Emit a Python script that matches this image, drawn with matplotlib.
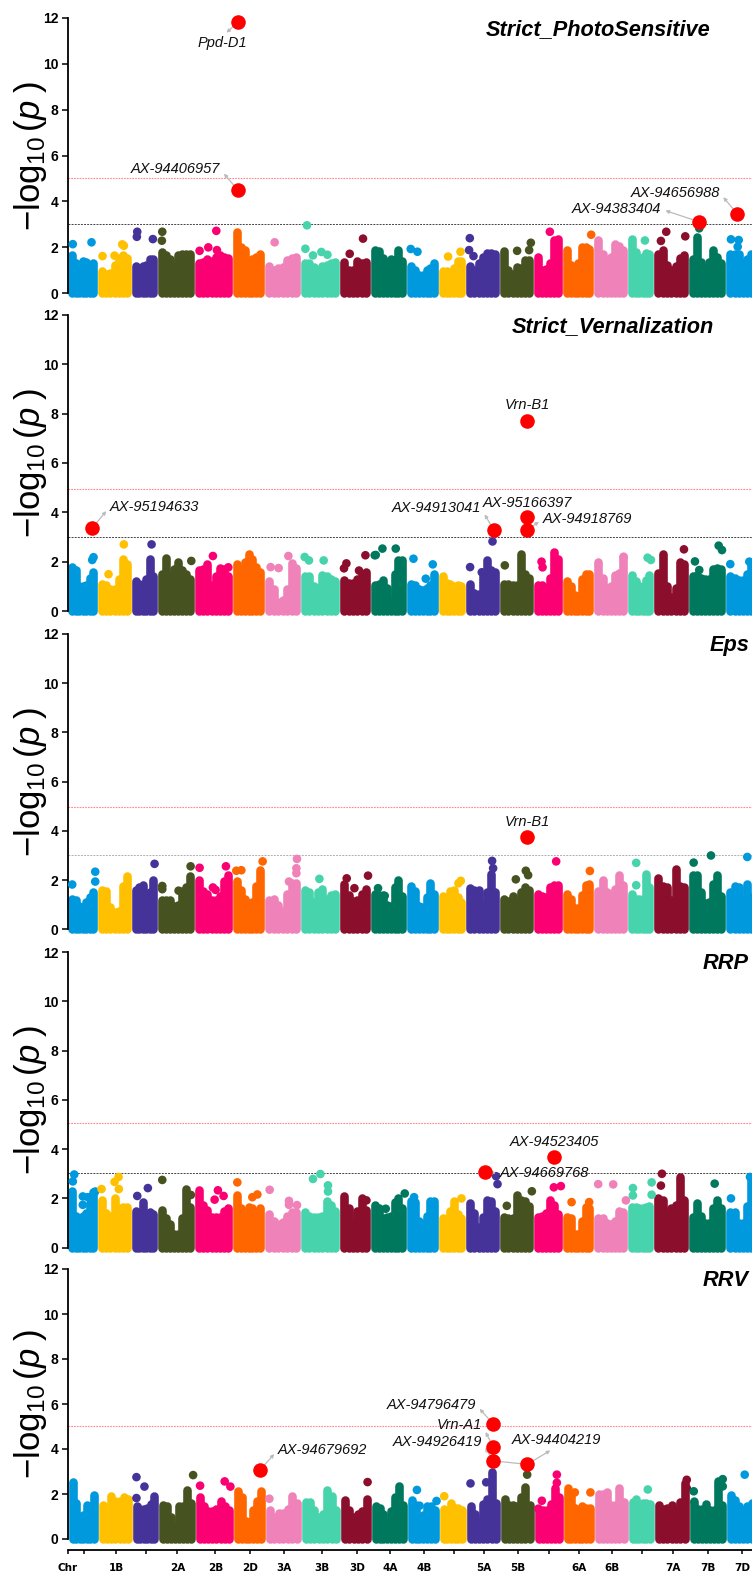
import numpy as np
import matplotlib
matplotlib.use("Agg")
import matplotlib.pyplot as plt

plt.rcParams['font.family'] = ['Liberation Sans', 'DejaVu Sans']
plt.rcParams['mathtext.fontset'] = 'custom'
plt.rcParams['mathtext.rm'] = 'Liberation Sans'
plt.rcParams['mathtext.it'] = 'Liberation Sans:italic'

# chromosome lengths, in 20 Mb bins
chr_size = [30, 34, 26, 37, 38, 32, 36, 39, 31, 36, 32, 27, 34, 34, 29, 31, 34, 26, 35, 37, 30]
chr_colors = ['#0099DD', '#FFC000', '#46339A', '#475221', '#FA0072', '#FF6600', '#EE82B9',
              '#47D3AC', '#8B0E2D', '#00785D'] * 2 + ['#0099DD']

tick_pos = [-1, 16, 48, 78, 109, 147, 182, 216, 254, 289, 322, 356, 386, 416, 450, 481, 511, 544, 574, 605, 640, 674]
tick_labels = ['Chr', '', '1B', '', '2A', '2B', '2D', '3A', '3B', '3D', '4A', '4B', '', '5A', '5B', '', '6A', '6B', '', '7A', '7B', '7D']

# top of the dense cloud along each chromosome, then the loose points above it
photo_heights = [
    [1.65, 1.3, 1.0, 1.4, 1.35, 1.25, 1.3], [0.95, 0.85, 0.9, 1.25, 1.55, 1.65, 1.55], [1.2, 1.05, 1.2, 1.25, 1.5, 1.5],
    [1.8, 1.65, 1.5, 1.2, 1.65, 1.7, 1.7, 1.7], [1.3, 1.35, 1.5, 1.4, 1.6, 1.65, 1.6, 1.55], [2.65, 2.0, 1.9, 1.2, 1.5, 1.6, 1.7],
    [1.2, 1.0, 1.1, 1.15, 1.45, 1.55, 1.6], [1.3, 1.3, 1.15, 1.0, 1.2, 1.25, 1.3, 1.35], [1.35, 1.0, 1.0, 1.4, 1.3, 1.35],
    [1.9, 1.85, 1.55, 1.35, 1.5, 1.45, 1.9, 1.4], [1.2, 1.0, 0.8, 0.8, 1.0, 1.1, 1.3], [0.95, 0.95, 0.8, 1.1, 1.4, 1.4],
    [1.2, 1.0, 1.3, 1.6, 1.75, 1.75, 1.7], [1.85, 1.0, 0.85, 1.15, 1.1, 1.45, 1.45], [1.6, 1.0, 1.05, 1.3, 2.3, 2.35],
    [1.9, 1.25, 1.15, 1.3, 2.0, 2.0, 1.95], [2.3, 1.7, 1.45, 1.6, 2.15, 2.05, 1.9], [2.35, 1.8, 1.55, 1.6, 1.75, 1.7],
    [1.7, 1.9, 1.25, 1.0, 1.2, 1.55, 1.65], [1.5, 2.45, 1.35, 1.1, 1.35, 1.9, 1.6, 1.3], [1.7, 1.7, 1.7, 1.3, 1.5, 1.7],
]
photo_out_x = [5.3, 24, 35, 47, 54.7, 56.3, 69.7, 69.3, 85.3, 94.7, 94.3, 132, 140.7, 149.3, 148.7, 207, 237.7, 245.3,
               253.7, 259.7, 239.3, 282, 295.3, 343, 349.7, 380.3, 392.7, 402, 401.3, 405.7, 449.3, 463, 461.3, 482,
               523.3, 577, 598.3, 593, 617.3, 631.3, 663, 670.7, 669.7]
photo_out_y = [2.14, 2.22, 1.62, 1.64, 2.13, 2.07, 2.68, 2.46, 2.36, 2.68, 2.29, 1.85, 2.0, 1.88, 2.72, 2.22, 1.94, 1.65,
               1.8, 1.68, 2.96, 1.72, 2.38, 1.93, 1.81, 1.6, 1.81, 2.4, 1.88, 1.62, 1.85, 2.2, 1.88, 2.68,
               2.55, 2.3, 2.68, 2.28, 2.48, 2.83, 2.35, 2.32, 2.03]
photo_hit_x = [170.3, 170.3, 630.7, 669.3]
photo_hit_y = [11.8, 4.49, 3.12, 3.45]
photo_names = ['Ppd-D1', 'AX-94406957', 'AX-94383404', 'AX-94656988']
photo_name_x = [154.7, 108, 548.7, 607]
photo_name_y = [10.88, 5.4, 3.66, 4.38]

vern_heights = [
    [1.8, 1.65, 1.0, 1.0, 1.05, 1.35, 1.6], [1.1, 1.05, 0.9, 0.9, 1.3, 2.1, 1.9], [1.2, 1.1, 1.1, 1.3, 2.1, 1.4],
    [1.5, 2.15, 1.4, 1.7, 2.0, 1.65, 1.5, 1.3], [1.65, 1.7, 1.9, 1.05, 1.4, 1.75, 1.7, 1.4], [1.9, 1.7, 2.0, 2.3, 2.1, 1.8, 1.6],
    [1.2, 0.9, 0.35, 0.45, 0.9, 1.95, 1.75], [1.4, 1.4, 1.0, 0.95, 1.45, 1.4, 1.3, 1.2], [1.25, 1.15, 1.15, 1.3, 1.5, 1.6],
    [1.05, 1.1, 1.25, 0.95, 0.4, 1.5, 2.05, 2.05], [1.1, 1.05, 0.9, 0.85, 0.95, 1.05, 1.5], [1.4, 1.15, 1.1, 1.0, 1.05, 1.0],
    [1.1, 0.75, 0.7, 1.4, 2.05, 1.65, 1.6], [1.1, 1.1, 1.05, 1.05, 2.3, 1.5, 1.35], [1.05, 1.05, 0.95, 1.35, 2.4, 2.1],
    [1.2, 1.0, 0.65, 0.55, 1.3, 1.5, 1.5], [2.0, 1.35, 0.95, 1.0, 1.45, 1.55, 2.2], [1.45, 1.2, 1.0, 1.0, 1.25, 1.45],
    [1.55, 2.3, 1.0, 0.55, 0.95, 2.0, 1.9], [1.4, 1.45, 1.35, 1.3, 1.3, 1.7, 1.75, 1.7], [1.4, 1.35, 1.25, 1.25, 1.5, 2.0],
]
vern_out_x = [26, 24.7, 41, 56.3, 84, 123.7, 145.3, 160.7, 203, 211, 220.7, 237, 241.3, 256, 278.7, 276.3, 291.3, 297.7,
              307, 314.7, 328, 308, 345.7, 358, 365, 402.3, 414, 424.7, 437, 473.7, 474.7, 555.7, 579.7, 583, 616,
              627, 650.7, 654, 631.3, 662.3, 681.3]
vern_out_y = [2.18, 2.07, 1.49, 2.7, 2.7, 2.03, 2.23, 1.77, 1.78, 1.74, 2.23, 2.19, 2.05, 2.05, 1.93, 1.73, 1.64, 2.26,
              2.26, 2.53, 2.53, 2.27, 2.12, 1.31, 1.89, 1.78, 1.57, 2.82, 1.85, 2.0, 1.77, 2.2, 2.16, 2.07, 2.5,
              2.01, 2.65, 2.47, 1.66, 1.9, 2.0]
vern_hit_x = [24.7, 425.7, 459, 459, 459]
vern_hit_y = [3.36, 3.3, 3.8, 3.28, 7.72]
vern_names = ['AX-95194633', 'AX-94913041', 'AX-95166397', 'AX-94918769', 'Vrn-B1']
vern_name_x = [87, 368.7, 459.7, 519.7, 459.6]
vern_name_y = [4.23, 4.16, 4.39, 3.73, 8.35]

eps_heights = [
    [1.25, 1.2, 0.95, 0.9, 1.1, 1.3, 1.5], [1.6, 1.55, 0.9, 0.7, 0.75, 1.75, 2.15], [1.6, 1.7, 1.8, 1.3, 1.5, 2.0],
    [1.2, 1.2, 1.2, 0.95, 1.0, 1.55, 1.7, 2.15], [2.0, 1.55, 1.45, 1.2, 1.2, 1.35, 1.95, 2.2], [1.95, 1.6, 1.25, 1.05, 1.1, 1.75, 2.4],
    [1.2, 1.25, 1.0, 0.75, 1.45, 1.9, 1.9], [1.6, 1.5, 1.1, 1.5, 1.65, 1.25, 1.4, 1.45], [1.85, 1.4, 1.15, 1.2, 1.45, 1.65],
    [1.45, 1.4, 1.4, 1.0, 0.95, 1.7, 2.0, 1.35], [1.75, 1.55, 0.95, 0.9, 1.3, 1.9, 1.45], [1.35, 1.0, 1.55, 1.6, 1.3, 1.1],
    [1.67, 1.6, 1.6, 1.0, 1.5, 2.25, 1.5], [1.25, 1.15, 1.35, 1.1, 1.5, 1.7, 1.6], [1.45, 1.35, 1.3, 1.7, 1.8, 1.8],
    [1.45, 1.25, 0.85, 0.85, 1.4, 1.8, 1.85], [1.55, 2.0, 1.5, 1.45, 1.65, 2.2, 1.8], [1.45, 1.25, 1.25, 1.25, 2.25, 1.7],
    [2.1, 1.75, 1.7, 1.2, 2.45, 1.75, 1.7], [2.2, 2.2, 1.5, 1.05, 1.1, 1.85, 2.2, 1.35], [1.5, 1.75, 1.7, 1.25, 1.85, 1.3],
]
eps_out_x = [4.7, 27.7, 27.7, 87, 94.7, 94.7, 123, 111, 132, 145.3, 148, 158.3, 168.7, 173.7, 195, 221.3, 229.3, 228.7,
             228.7, 251.7, 279, 286.7, 300.3, 310.3, 317, 393, 390.7, 424.3, 425.3, 448, 458, 460.3, 488.3, 522,
             568.3, 568.3, 625.7, 643, 679.3]
eps_out_y = [1.82, 2.34, 1.94, 2.66, 1.76, 1.63, 2.56, 1.57, 2.5, 1.7, 1.6, 2.56, 2.38, 2.4, 2.76, 1.94, 2.86, 2.48,
             2.28, 2.05, 2.07, 1.67, 2.18, 1.67, 1.36, 1.97, 1.87, 2.78, 2.48, 2.03, 2.38, 2.2, 2.76, 2.37,
             2.7, 1.79, 2.71, 3.0, 2.94]
eps_hit_x = [459]
eps_hit_y = [3.75]
eps_names = ['Vrn-B1']
eps_name_x = [459.7]
eps_name_y = [4.35]

rrp_heights = [
    [2.3, 1.3, 1.2, 1.3, 1.4, 1.8, 2.25], [1.95, 1.4, 1.3, 2.0, 1.6, 1.65, 1.65], [1.5, 1.4, 1.85, 1.25, 1.45, 1.35],
    [1.55, 1.2, 0.95, 0.55, 0.55, 1.2, 2.4, 1.65], [2.35, 1.75, 1.55, 1.25, 1.25, 1.25, 1.5, 1.6], [2.15, 1.6, 1.15, 1.65, 1.6, 1.45, 1.6],
    [1.35, 1.1, 0.95, 1.05, 1.3, 1.45, 1.45], [1.45, 1.3, 1.25, 1.25, 1.3, 1.9, 1.75, 1.5], [2.1, 1.6, 1.0, 1.5, 2.0, 1.55],
    [1.75, 1.6, 1.2, 1.25, 1.3, 1.85, 2.0, 1.6], [1.9, 1.85, 1.1, 0.95, 1.3, 1.9, 1.9], [1.2, 1.2, 1.5, 1.9, 1.35, 1.2],
    [1.8, 1.4, 0.85, 1.25, 1.95, 1.9, 1.5], [1.25, 1.2, 1.2, 2.15, 1.95, 1.9, 1.7], [1.25, 1.3, 1.4, 1.95, 1.75, 1.35],
    [1.25, 1.2, 0.55, 0.55, 1.1, 1.65, 1.6], [1.2, 1.2, 1.0, 0.95, 1.1, 1.5, 1.45], [1.65, 1.65, 1.6, 1.6, 1.65, 1.7],
    [2.0, 1.95, 1.4, 1.6, 1.75, 2.85, 1.95], [1.25, 1.8, 1.3, 1.0, 1.0, 1.6, 1.95, 1.6], [1.45, 1.45, 1.0, 1.0, 1.7, 2.85],
]
rrp_out_x = [6.7, 5.3, 15.3, 20.3, 27.7, 15.3, 34, 47, 51, 51.3, 69.7, 80.3, 94.7, 123.3, 147, 150.3, 156, 169.7, 184.7,
             189.7, 202, 221.3, 221.3, 229.3, 245.3, 252.7, 260.3, 260.3, 298.7, 337, 318, 346.3, 393.7, 428.3, 429.7,
             439, 464, 486, 493, 503.7, 521.3, 530.3, 545.3, 558, 565, 565, 583.7, 583.7, 594, 593, 646.7, 663, 682]
rrp_out_y = [2.97, 2.69, 2.08, 2.05, 2.28, 1.74, 2.38, 2.67, 2.87, 2.38, 2.1, 2.42, 2.75, 2.14, 1.95, 2.33, 2.1, 2.65, 2.05,
             2.16, 2.35, 1.9, 1.74, 1.73, 2.79, 2.99, 2.53, 2.28, 1.92, 2.2, 1.58, 2.05, 2.0, 2.9, 2.58,
             1.7, 2.29, 2.45, 2.5, 1.85, 1.85, 2.58, 2.57, 1.92, 2.42, 2.12, 2.65, 2.15, 3.0, 2.52, 2.6, 2.0, 2.87]
rrp_hit_x = [486, 416.7]
rrp_hit_y = [3.67, 3.07]
rrp_names = ['AX-94523405', 'AX-94669768']
rrp_name_x = [486.7, 477]
rrp_name_y = [4.28, 3.02]

rrv_heights = [
    [2.55, 1.6, 0.85, 1.05, 1.5, 1.45, 1.95], [1.5, 1.05, 1.9, 1.7, 1.7, 1.85, 1.8], [1.45, 1.35, 1.35, 1.4, 1.55, 1.9],
    [1.5, 1.45, 1.0, 0.6, 1.45, 1.45, 2.2, 1.6], [1.85, 1.45, 1.25, 1.25, 1.35, 1.7, 1.45, 1.3], [2.15, 1.85, 0.8, 0.75, 1.3, 1.7, 2.15],
    [1.3, 1.0, 1.15, 1.15, 1.35, 1.9, 1.6], [1.65, 1.65, 1.3, 1.0, 1.1, 2.2, 1.9, 1.3], [1.75, 1.3, 1.0, 1.1, 1.25, 1.8],
    [1.45, 1.4, 1.1, 0.7, 1.25, 1.85, 2.35, 1.5], [1.75, 1.5, 1.0, 1.05, 1.45, 1.45, 1.3], [1.35, 1.2, 1.6, 1.4, 1.4, 1.3],
    [1.45, 1.1, 0.8, 1.55, 1.8, 3.0, 1.6], [1.8, 1.5, 1.5, 1.45, 1.85, 2.3, 1.5], [1.3, 1.3, 1.3, 1.55, 2.25, 1.85],
    [2.25, 1.9, 1.4, 1.25, 1.45, 1.4, 1.4], [2.0, 2.0, 2.1, 1.5, 1.5, 2.25, 1.65], [1.65, 1.8, 1.55, 1.6, 1.6, 1.55],
    [1.5, 1.35, 1.4, 1.5, 1.3, 1.65, 2.5], [1.6, 1.35, 1.35, 1.55, 1.3, 1.3, 2.6, 1.5], [1.95, 1.75, 1.45, 1.3, 1.45, 1.6],
]
rrv_out_x = [68, 76, 68, 124.7, 131.7, 156.3, 162, 201, 299.3, 348.7, 351.3, 368.3, 376, 402.3, 418, 459, 473.7, 470.3,
             488.7, 488.7, 522.3, 506.7, 579.7, 618.7, 618.7, 625.7, 626.3, 654.7, 654.7, 676.7]
rrv_out_y = [2.75, 2.33, 1.82, 2.84, 2.37, 2.56, 2.33, 1.79, 2.53, 2.18, 1.48, 1.69, 1.9, 2.47, 2.52, 2.86, 1.7, 1.35,
             2.86, 2.5, 2.07, 2.07, 2.2, 2.63, 2.26, 2.12, 1.66, 2.66, 2.34, 2.86]
rrv_hit_x = [191.7, 425.3, 425.3, 425.3, 459]
rrv_hit_y = [3.07, 5.1, 4.07, 3.47, 3.32]
rrv_names = ['AX-94679692', 'AX-94796479', 'Vrn-A1', 'AX-94926419', 'AX-94404219']
rrv_name_x = [254.3, 363, 391.3, 368.7, 488]
rrv_name_y = [3.96, 5.97, 5.05, 4.3, 4.4]

titles = ['Strict_PhotoSensitive', 'Strict_Vernalization', 'Eps', 'RRP', 'RRV']
sug_line = [5.02, 4.96, 4.97, 5.07, 5.02]
low_line = [3.0, 2.99, 3.02, 3.05, None]

W, H = 752, 1573
# pixel rows of y=12 and y=0 per panel, and where the title ends
top_px = [17.7, 315, 634, 952, 1269]
bot_px = [293.3, 611, 929.3, 1247.7, 1539]
title_x = [710, 714, 749, 749, 749]
title_y = [30, 327, 646, 964, 1280]
low_color = ['#444444', '#444444', '#b0b0b0', '#444444', '#444444']

starts = np.cumsum([0] + chr_size[:-1])
ends = np.cumsum(chr_size)
dot_pt = 6.2

fig = plt.figure(figsize=(W / 100, H / 100), dpi=100)

panels = [
    (photo_heights, photo_out_x, photo_out_y, photo_hit_x, photo_hit_y, photo_names, photo_name_x, photo_name_y),
    (vern_heights, vern_out_x, vern_out_y, vern_hit_x, vern_hit_y, vern_names, vern_name_x, vern_name_y),
    (eps_heights, eps_out_x, eps_out_y, eps_hit_x, eps_hit_y, eps_names, eps_name_x, eps_name_y),
    (rrp_heights, rrp_out_x, rrp_out_y, rrp_hit_x, rrp_hit_y, rrp_names, rrp_name_x, rrp_name_y),
    (rrv_heights, rrv_out_x, rrv_out_y, rrv_hit_x, rrv_hit_y, rrv_names, rrv_name_x, rrv_name_y),
]

for i, (heights, ox, oy, hx, hy, names, nx, ny) in enumerate(panels):
    ax = fig.add_axes([67.5 / W, 1 - bot_px[i] / H, 1 - 67.5 / W, (bot_px[i] - top_px[i]) / H])

    for c in range(21):
        xs = np.linspace(starts[c] + 4.5, ends[c] - 4.5, len(heights[c]))
        ax.vlines(xs, 0, heights[c], colors=chr_colors[c], linewidth=dot_pt, capstyle='round', clip_on=False, zorder=2)

    idx = np.searchsorted(ends, ox, side='right').clip(0, 20)
    ax.scatter(ox, oy, s=dot_pt ** 2, c=[chr_colors[k] for k in idx], linewidths=0, zorder=3, clip_on=False)

    ax.axhline(sug_line[i], color='#ff8888', lw=0.8, ls=(0, (1.5, 1)), zorder=1)
    if low_line[i] is not None:
        ax.axhline(low_line[i], color=low_color[i], lw=0.7, ls=(0, (2, 1.2)), zorder=1)

    if i == 4:
        ax.plot([hx[3], hx[4]], [hy[3], hy[4]], color='#bbbbbb', lw=0.9, zorder=3)

    ax.scatter(hx, hy, s=110, color='#ff0000', linewidths=0, zorder=5, clip_on=False)
    for px, py, name, tx, ty in zip(hx, hy, names, nx, ny):
        # the leader meets the label at its nearest end
        rx = 1 if px > tx + 30 else 0 if px < tx - 30 else 0.5
        ry = 0.5 if rx != 0.5 else (1 if py > ty else 0)
        ax.annotate(name, xy=(px, py), xytext=(tx, ty), ha='center', va='center', style='italic', fontsize=10.5,
                    color='#111111', zorder=4,
                    arrowprops=dict(arrowstyle='<|-', color='#bbbbbb', lw=0.9, mutation_scale=5, relpos=(rx, ry),
                                    shrinkA=1, shrinkB=0))

    ax.set_xlim(0, sum(chr_size) - 4)
    ax.set_ylim(0, 12)
    ax.set_yticks(range(0, 13, 2))
    for lab in ax.get_yticklabels():
        lab.set_fontweight('bold')
    ax.tick_params(axis='y', length=4.5, width=1.1, labelsize=10, pad=2)
    ax.spines['left'].set_linewidth(1.3)
    ax.spines['top'].set_visible(False)
    ax.spines['right'].set_visible(False)
    ax.patch.set_alpha(0)

    if i == 4:
        ax.spines['bottom'].set_position(('outward', 8))
        ax.spines['bottom'].set_linewidth(1.3)
        ax.spines['left'].set_bounds(0, 12)
        ax.set_xticks(tick_pos)
        ax.set_xticklabels(tick_labels, family='DejaVu Sans', fontweight='bold', fontsize=7.5)
        ax.tick_params(axis='x', length=3, width=1.1, pad=6)
        for t in ax.get_xticklines() + ax.get_xticklabels():
            t.set_clip_on(False)
    else:
        ax.spines['bottom'].set_visible(False)
        ax.set_xticks([])

    fig.text(31 / W, 1 - (top_px[i] + bot_px[i]) / 2 / H, r'$-\log_{10}(p\;)$', rotation=90,
             ha='center', va='center', fontsize=25)
    fig.text(title_x[i] / W, 1 - title_y[i] / H, titles[i], ha='right', va='center', style='italic',
             fontweight='bold', fontsize=15.7, color='black')

fig.savefig('out.png', dpi=100)
